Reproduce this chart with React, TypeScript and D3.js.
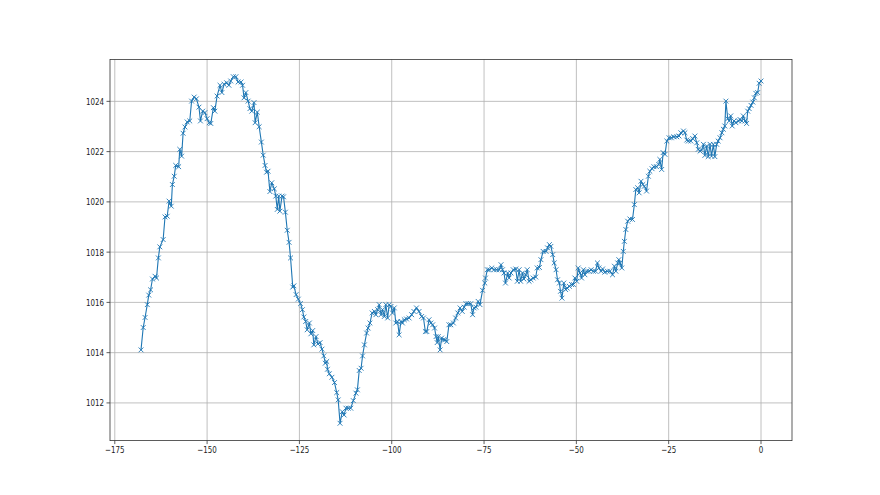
import React from "react";
import * as d3 from "d3";

const xs: number[] = [
  -167.9, -167.3, -166.8, -166.2, -165.8, -165.3, -164.8, -164.1, -163.7, -163.2,
  -162.8, -161.9, -161.4, -160.8, -160.3, -159.7, -159.4, -158.9, -158.5, -157.7,
  -157.4, -156.9, -156.5, -156.0, -155.4, -154.7, -154.2, -153.5, -152.9, -152.2,
  -151.8, -151.2, -150.6, -150.0, -149.4, -149.0, -148.3, -147.9, -147.3, -146.5,
  -146.0, -145.4, -144.7, -144.1, -143.6, -142.9, -142.2, -141.6, -140.8, -140.4,
  -140.0, -139.5, -138.9, -138.4, -137.9, -137.3, -137.0, -136.4, -135.9, -135.3,
  -134.8, -134.3, -133.9, -133.5, -133.0, -132.5, -131.8, -131.4, -131.0, -130.6,
  -130.3, -129.7, -129.3, -128.8, -128.3, -127.8, -127.4, -126.8, -126.5, -125.9,
  -125.3, -124.7, -124.2, -123.8, -123.3, -122.9, -122.3, -121.9, -121.4, -121.1,
  -120.5, -120.0, -119.4, -118.9, -118.4, -118.0, -117.6, -117.4, -116.9, -116.2,
  -115.5, -114.9, -114.5, -114.0, -113.4, -112.9, -112.4, -111.8, -111.1, -110.4,
  -109.7, -109.3, -108.8, -108.3, -107.9, -107.4, -106.8, -106.4, -105.9, -105.3,
  -104.7, -104.3, -103.8, -103.4, -102.9, -102.5, -102.0, -101.6, -101.1, -100.7,
  -100.2, -99.8, -99.3, -98.9, -98.4, -98.0, -97.5, -97.1, -96.6, -96.0,
  -95.3, -94.6, -94.0, -93.3, -92.6, -91.9, -91.4, -90.9, -90.5, -89.9,
  -89.4, -88.9, -88.4, -88.0, -87.7, -87.4, -86.9, -86.5, -86.0, -85.6,
  -85.1, -84.5, -84.0, -83.3, -82.7, -82.1, -81.5, -80.9, -80.4, -79.9,
  -79.3, -78.6, -78.1, -77.7, -77.2, -76.6, -76.1, -75.4, -74.8, -74.6,
  -74.1, -73.6, -72.9, -72.3, -71.6, -70.9, -70.4, -70.0, -69.6, -69.2,
  -68.6, -68.2, -67.7, -67.1, -66.4, -66.0, -65.5, -65.1, -64.6, -64.2,
  -63.7, -63.3, -62.8, -62.3, -61.7, -61.0, -60.6, -60.0, -59.6, -59.0,
  -58.2, -57.8, -57.3, -56.9, -56.4, -56.0, -55.5, -55.1, -54.6, -54.3,
  -53.9, -53.4, -52.9, -52.5, -51.9, -51.3, -50.8, -50.4, -49.9, -49.5,
  -49.0, -48.6, -48.1, -47.7, -47.2, -46.6, -46.0, -45.4, -44.8, -44.3,
  -43.9, -43.3, -42.9, -42.3, -41.6, -40.9, -40.2, -39.7, -39.3, -38.8,
  -38.5, -38.2, -37.7, -37.3, -37.0, -36.6, -36.1, -35.5, -34.8, -34.3,
  -33.9, -33.4, -33.0, -32.5, -32.0, -31.6, -31.0, -30.5, -30.1, -29.5,
  -29.0, -28.3, -27.7, -27.4, -26.9, -26.5, -26.0, -25.5, -24.9, -24.3,
  -23.6, -22.8, -22.2, -21.7, -21.0, -20.6, -20.1, -19.7, -19.0, -18.5,
  -17.9, -17.4, -17.0, -16.5, -16.1, -15.6, -15.2, -14.7, -14.3, -13.8,
  -13.4, -12.9, -12.5, -12.0, -11.6, -11.1, -10.6, -10.2, -9.8, -9.5,
  -9.0, -8.6, -8.2, -7.8, -7.3, -6.8, -6.1, -5.7, -5.2, -4.8,
  -4.3, -3.9, -3.6, -3.2, -2.7, -2.2, -1.8, -1.4, -0.9, -0.5,
  0.0,
];

const pressure: number[] = [
  1014.11, 1015.0, 1015.4, 1015.91, 1016.29, 1016.5, 1016.93, 1017.04, 1016.97, 1017.77,
  1018.21, 1018.5, 1019.4, 1019.43, 1020.03, 1019.83, 1020.69, 1021.02, 1021.45, 1021.4,
  1022.09, 1021.82, 1022.73, 1022.98, 1023.18, 1023.22, 1024.01, 1024.17, 1024.1, 1023.77,
  1023.22, 1023.61, 1023.55, 1023.31, 1023.15, 1023.12, 1023.75, 1023.61, 1024.21, 1024.64,
  1024.35, 1024.68, 1024.74, 1024.64, 1024.81, 1024.98, 1024.98, 1024.77, 1024.77, 1024.64,
  1024.14, 1024.35, 1024.01, 1023.71, 1023.61, 1023.95, 1023.15, 1023.57, 1022.99, 1022.38,
  1021.86, 1021.45, 1021.18, 1021.22, 1020.41, 1020.76, 1020.52, 1020.23, 1019.7, 1020.23,
  1019.63, 1020.23, 1020.2, 1019.59, 1018.87, 1018.39, 1017.77, 1016.61, 1016.66, 1016.31,
  1016.13, 1015.95, 1015.71, 1015.42, 1015.24, 1014.91, 1015.18, 1014.75, 1014.88, 1014.31,
  1014.64, 1014.35, 1014.4, 1014.14, 1013.87, 1013.58, 1013.65, 1013.34, 1013.16, 1013.02,
  1012.81, 1012.41, 1012.12, 1011.19, 1011.65, 1011.52, 1011.79, 1011.79, 1011.79, 1012.09,
  1012.39, 1012.52, 1013.29, 1013.38, 1013.87, 1014.31, 1014.78, 1014.98, 1015.18, 1015.58,
  1015.64, 1015.51, 1015.71, 1015.91, 1015.51, 1015.71, 1015.44, 1015.91, 1015.38, 1015.91,
  1015.84, 1015.58, 1015.78, 1015.18, 1015.24, 1014.71, 1015.24, 1015.18, 1015.31, 1015.34,
  1015.38, 1015.51, 1015.64, 1015.78, 1015.64, 1015.44, 1015.38, 1014.84, 1014.84, 1015.31,
  1015.18, 1015.11, 1014.98, 1014.64, 1014.4, 1014.64, 1014.11, 1014.58, 1014.51, 1014.51,
  1014.44, 1015.11, 1015.11, 1015.18, 1015.38, 1015.58, 1015.78, 1015.64, 1015.81, 1015.95,
  1015.95, 1015.95, 1015.51, 1015.78, 1015.81, 1016.04, 1015.91, 1016.48, 1016.77, 1016.97,
  1017.3, 1017.3, 1017.37, 1017.3, 1017.3, 1017.3, 1017.5, 1017.3, 1017.17, 1016.77,
  1017.17, 1016.97, 1017.17, 1017.3, 1017.33, 1016.84, 1017.3, 1016.84, 1017.17, 1016.93,
  1017.1, 1017.3, 1016.84, 1016.9, 1016.97, 1017.01, 1017.37, 1017.39, 1017.7, 1018.03,
  1018.03, 1018.17, 1018.3, 1018.23, 1017.9, 1017.57, 1017.3, 1016.9, 1016.77, 1016.44,
  1016.17, 1016.77, 1016.51, 1016.57, 1016.64, 1016.71, 1016.71, 1016.97, 1016.84, 1017.37,
  1017.17, 1016.97, 1017.3, 1017.1, 1017.24, 1017.24, 1017.3, 1017.24, 1017.24, 1017.57,
  1017.37, 1017.24, 1017.33, 1017.2, 1017.24, 1017.24, 1017.1, 1017.44, 1017.24, 1017.57,
  1017.7, 1017.57, 1017.37, 1018.03, 1018.43, 1018.9, 1019.23, 1019.32, 1019.3, 1019.89,
  1020.49, 1020.56, 1020.36, 1020.82, 1020.69, 1020.62, 1020.43, 1021.02, 1021.22, 1021.32,
  1021.4, 1021.4, 1021.49, 1021.69, 1021.29, 1021.96, 1021.89, 1022.42, 1022.55, 1022.55,
  1022.59, 1022.59, 1022.62, 1022.75, 1022.82, 1022.75, 1022.46, 1022.42, 1022.42, 1022.52,
  1022.62, 1022.35, 1022.09, 1022.02, 1022.06, 1022.29, 1021.85, 1022.22, 1021.8, 1022.29,
  1021.82, 1022.29, 1021.8, 1022.29, 1022.42, 1022.55, 1022.75, 1022.89, 1023.02, 1024.01,
  1023.31, 1023.22, 1023.42, 1023.02, 1023.22, 1023.15, 1023.22, 1023.28, 1023.22, 1023.42,
  1023.22, 1023.12, 1023.61, 1023.71, 1023.84, 1023.97, 1024.14, 1024.32, 1024.35, 1024.72,
  1024.81,
];

const xTicks: number[] = [-175, -150, -125, -100, -75, -50, -25, 0];
const yTicks: number[] = [1012, 1014, 1016, 1018, 1020, 1022, 1024];

const W = 880;
const H = 495;
const M = { left: 110, right: 792, top: 59.4, bottom: 440.6 };

function padded(ext: [number, number]): [number, number] {
  const d = (ext[1] - ext[0]) * 0.05;
  return [ext[0] - d, ext[1] + d];
}

export default function App() {
  const data = xs.map((x, i) => ({ x, y: pressure[i] }));
  const x = d3.scaleLinear().domain(padded(d3.extent(xs) as [number, number])).range([M.left, M.right]);
  const y = d3.scaleLinear().domain(padded(d3.extent(pressure) as [number, number])).range([M.bottom, M.top]);
  const line = d3
    .line<{ x: number; y: number }>()
    .x((d) => x(d.x))
    .y((d) => y(d.y));
  const fmt = (v: number) => (v < 0 ? "\u2212" + Math.abs(v) : String(v));
  const color = "#1f77b4";
  const ms = 2.4;
  const font = "DejaVu Sans, sans-serif";
  const sx = 0.75;
  return (
    <svg width={W} height={H} style={{ position: "absolute", left: 0, top: 0, background: "#fff" }}>
      <rect x={0} y={0} width={W} height={H} fill="#fff" />
      {xTicks.map((t) => (
        <line key={"gx" + t} x1={x(t)} x2={x(t)} y1={M.top} y2={M.bottom} stroke="#b0b0b0" strokeWidth={0.8} />
      ))}
      {yTicks.map((t) => (
        <line key={"gy" + t} x1={M.left} x2={M.right} y1={y(t)} y2={y(t)} stroke="#b0b0b0" strokeWidth={0.8} />
      ))}
      <path d={line(data) || ""} fill="none" stroke={color} strokeWidth={1.1} strokeLinejoin="round" />
      {data.map((d, i) => (
        <path
          key={i}
          d={`M${x(d.x) - ms},${y(d.y) - ms}L${x(d.x) + ms},${y(d.y) + ms}M${x(d.x) - ms},${y(d.y) + ms}L${x(d.x) + ms},${y(d.y) - ms}`}
          stroke={color}
          strokeWidth={0.9}
          fill="none"
        />
      ))}
      <rect
        x={M.left}
        y={M.top}
        width={M.right - M.left}
        height={M.bottom - M.top}
        fill="none"
        stroke="#333"
        strokeWidth={0.8}
      />
      {xTicks.map((t) => (
        <g key={"tx" + t}>
          <line x1={x(t)} x2={x(t)} y1={M.bottom} y2={M.bottom + 3.5} stroke="#333" strokeWidth={0.8} />
          <text
            transform={`translate(${x(t)},${M.bottom + 12.5}) scale(${sx},1)`}
            textAnchor="middle"
            fontSize={9.5}
            fontFamily={font}
            fill="#222"
          >
            {fmt(t)}
          </text>
        </g>
      ))}
      {yTicks.map((t) => (
        <g key={"ty" + t}>
          <line x1={M.left - 3.5} x2={M.left} y1={y(t)} y2={y(t)} stroke="#333" strokeWidth={0.8} />
          <text
            transform={`translate(${M.left - 6},${y(t) + 3.4}) scale(${sx},1)`}
            textAnchor="end"
            fontSize={9.5}
            fontFamily={font}
            fill="#222"
          >
            {t}
          </text>
        </g>
      ))}
    </svg>
  );
}
